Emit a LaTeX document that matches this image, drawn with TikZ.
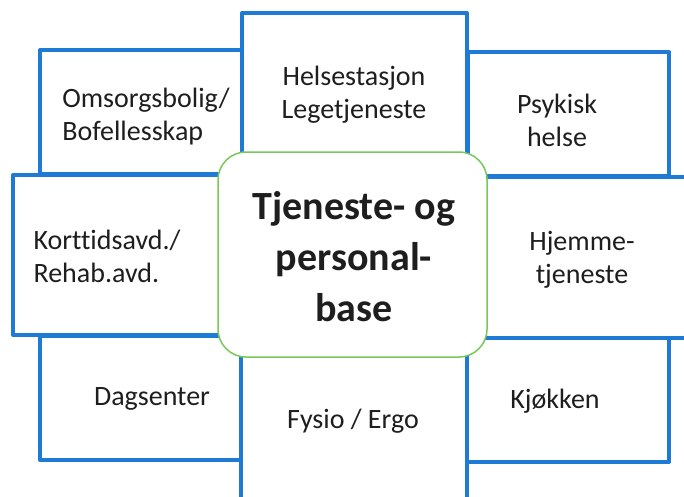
\documentclass[tikz,border=0pt]{standalone}
\usepackage{fontspec}
\setmainfont{Carlito}[Ligatures=NoCommon]
\definecolor{boxblue}{RGB}{30,122,212}
\definecolor{hubgreen}{RGB}{120,200,90}
\definecolor{txt}{RGB}{30,30,30}
\begin{document}
\begin{tikzpicture}[x=1pt,y=-1pt,
  unit/.style={draw=boxblue,line width=4pt,fill=white,line join=round},
  lbl/.style={font=\fontsize{28}{33}\selectfont,text=txt,align=center,inner sep=0pt},
  lbll/.style={lbl,align=left},
  hub/.style={draw=hubgreen,line width=1.5pt,fill=white,rounded corners=28pt}]
\useasboundingbox (0,0) rectangle (684,496);
\begin{scope}
\clip (0,0) rectangle (684,496);
\draw[unit] (40,50) rectangle (243,174);
\draw[unit] (468,52) rectangle (669,176);
\draw[unit] (242,13) rectangle (467,220);
\draw[unit] (13,175) rectangle (241,335);
\draw[unit] (468,177) rectangle (720,338);
\draw[unit] (40,336) rectangle (241,460);
\draw[unit] (467,338) rectangle (669,462);
\draw[unit] (241,300) rectangle (467,530);
\end{scope}
\draw[hub] (218,152) rectangle (487,357);
\node[lbll] (omsorg) at (146,117) {Omsorgsbolig/\\Bofellesskap};
\node[lbl] (helse) at (354,95) {Helsestasjon\\Legetjeneste};
\node[lbl] (psyk) at (557,120) {Psykisk\\helse};
\node[lbll] (kort) at (107,256) {Korttidsavd./\\Rehab.avd.};
\node[lbl] (hjem) at (582,260) {Hjemme-\\tjeneste};
\node[lbl] (dag) at (152,399) {Dagsenter};
\node[lbl] (fys) at (353,421) {Fysio / Ergo};
\node[lbl] (kjok) at (555,401) {Kjøkken};
\node[lbl,font=\fontsize{40}{51}\selectfont\bfseries] (hubtxt) at (354,257) {Tjeneste- og\\personal-\\base};
\end{tikzpicture}
\end{document}
